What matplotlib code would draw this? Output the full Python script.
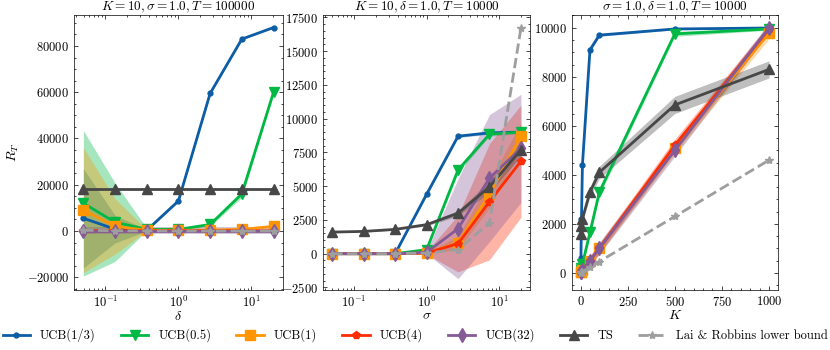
import numpy as np
import matplotlib.pyplot as plt

plt.rcParams.update({
    'font.family': ['serif'],
    'font.serif': ['cmr10', 'DejaVu Serif'],
    'mathtext.fontset': 'cm',
    'axes.formatter.use_mathtext': True,
    'font.size': 9,
    'axes.linewidth': 0.5,
    'xtick.direction': 'in', 'ytick.direction': 'in',
    'xtick.top': True, 'ytick.right': True,
    'xtick.minor.visible': True, 'ytick.minor.visible': True,
    'xtick.major.size': 3, 'ytick.major.size': 3,
    'xtick.minor.size': 1.5, 'ytick.minor.size': 1.5,
    'xtick.major.width': 0.5, 'ytick.major.width': 0.5,
    'xtick.minor.width': 0.5, 'ytick.minor.width': 0.5,
})

labels = ['UCB(1/3)', 'UCB(0.5)', 'UCB(1)', 'UCB(4)', 'UCB(32)', 'TS', 'Lai & Robbins lower bound']
colors = ['#0C5DA5', '#00B945', '#FF9500', '#FF2C00', '#845B97', '#474747', '#9e9e9e']
markers = ['o', 'v', 's', 'p', 'd', '^', '*']
msizes = [3.5, 7, 7, 6, 7, 7, 6]

# panel 1: regret vs delta
delta = [0.0498, 0.135, 0.368, 1.0, 2.718, 7.389, 20.09]
d_mean = [
    [5500, 800, 300, 13000, 59500, 83000, 88000],
    [12000, 3800, 700, 700, 2800, 16000, 60000],
    [9000, 2000, 300, 300, 400, 700, 2000],
    [100, 100, 80, 80, 80, 80, 80],
    [50, 50, 50, 50, 50, 50, 50],
    [18000, 18000, 18000, 18000, 18000, 18000, 18000],
    [300, 120, 50, 20, 8, 3, 1],
]
d_std = [
    [21500, 6000, 300, 500, 300, 200, 100],
    [31500, 17000, 500, 300, 800, 1500, 1000],
    [27000, 12000, 300, 300, 300, 300, 500],
    [1000, 500, 300, 300, 300, 300, 300],
    [1500, 1500, 1500, 1500, 1500, 1500, 1500],
    [300, 300, 300, 300, 300, 300, 300],
    None,
]

# panel 2: regret vs sigma
sigma = [0.0498, 0.135, 0.368, 1.0, 2.718, 7.389, 20.09]
s_mean = [
    [0, 0, 0, 4400, 8700, 8950, 9000],
    [0, 0, 0, 300, 6200, 8850, 9000],
    [0, 0, 0, 50, 800, 4400, 8700],
    [0, 0, 0, 50, 750, 3850, 6850],
    [0, 0, 0, 100, 1850, 5600, 7800],
    [1600, 1650, 1800, 2150, 3000, 4950, 7700],
    [0.1, 0.8, 5.6, 42, 308, 2278, 16700],
]
s_std = [
    [0, 0, 0, 100, 100, 100, 50],
    [0, 0, 0, 100, 200, 150, 100],
    [0, 0, 0, 50, 500, 1000, 1000],
    [0, 0, 0, 100, 2100, 4300, 4150],
    [0, 0, 0, 100, 3700, 4700, 4000],
    [50, 50, 50, 100, 200, 400, 500],
    None,
]

# panel 3: regret vs K
K = [2, 5, 10, 50, 100, 500, 1000]
k_mean = [
    [600, 2200, 4400, 9100, 9700, 9950, 9990],
    [100, 200, 350, 1650, 3300, 9750, 9950],
    [20, 50, 100, 500, 1000, 5100, 9800],
    [20, 50, 100, 500, 1000, 5200, 9950],
    [20, 50, 100, 500, 1000, 5000, 10000],
    [1600, 1900, 2200, 3300, 4100, 6850, 8300],
    [9, 23, 46, 230, 460, 2300, 4600],
]
k_std = [
    [100, 100, 100, 100, 50, 30, 20],
    [100, 100, 100, 150, 150, 100, 50],
    [30, 50, 80, 150, 200, 250, 250],
    [30, 50, 80, 150, 200, 250, 200],
    [50, 100, 150, 200, 250, 250, 200],
    [100, 100, 100, 200, 250, 350, 350],
    None,
]

fig = plt.figure(figsize=(8.3, 3.5), dpi=100)
axes = [fig.add_axes([0.089, 0.171, 0.252, 0.786]),
        fig.add_axes([0.389, 0.171, 0.250, 0.786]),
        fig.add_axes([0.689, 0.171, 0.248, 0.786])]

panels = [
    (axes[0], delta, d_mean, d_std, r'$\delta$', r'$K=10, \sigma=1.0, T=100000$'),
    (axes[1], sigma, s_mean, s_std, r'$\sigma$', r'$K=10, \delta=1.0, T=10000$'),
    (axes[2], K, k_mean, k_std, r'$K$', r'$\sigma=1.0, \delta=1.0, T=10000$'),
]

for ax, x, means, stds, xl, title in panels:
    x = np.array(x)
    for m, s, c in zip(means, stds, colors):
        if s is None:
            continue
        m = np.array(m, float)
        s = np.array(s, float)
        ax.fill_between(x, m - s, m + s, color=c, alpha=0.35, lw=0)
    for i, (m, c) in enumerate(zip(means, colors)):
        ls = '--' if i == 6 else '-'
        ax.plot(x, m, ls=ls, color=c, marker=markers[i], ms=msizes[i], lw=2, label=labels[i])
    ax.set_xlabel(xl, labelpad=0, fontsize=10)
    ax.set_title(title, fontsize=9.5, pad=3)

axes[0].set_xscale('log')
axes[1].set_xscale('log')
axes[0].set_ylim(-25600, 93400)
axes[0].set_yticks([-20000, 0, 20000, 40000, 60000, 80000])
axes[1].set_ylim(-2700, 17670)
axes[1].set_yticks(np.arange(-2500, 17501, 2500))
axes[2].set_ylim(-706, 10518)
axes[2].set_xlim(-46, 1046)
axes[2].set_xticks([0, 250, 500, 750, 1000])
axes[0].set_ylabel(r'$R_T$', fontsize=10)

handles, labs = axes[0].get_legend_handles_labels()
fig.legend(handles, labs, loc='lower center', ncol=7, frameon=False,
           bbox_to_anchor=(0.5, -0.01), fontsize=9, handlelength=2.2,
           columnspacing=2.0)

fig.savefig('out.png', dpi=100)
